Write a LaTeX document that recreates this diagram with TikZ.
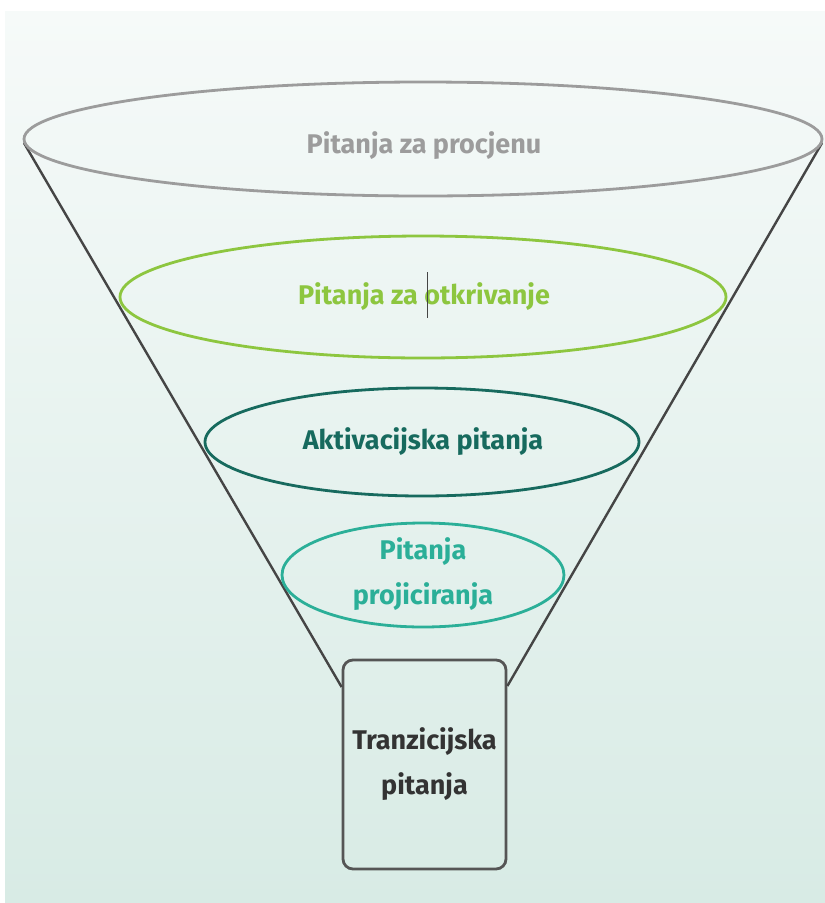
\documentclass[tikz,border=0pt]{standalone}
\usepackage{fontspec}
\setmainfont{Fira Sans}
\definecolor{bgtop}{HTML}{F6FAF9}
\definecolor{bgbot}{HTML}{D8EBE5}
\definecolor{cgray}{HTML}{9C9C9C}
\definecolor{cgreen}{HTML}{8DC63F}
\definecolor{cdark}{HTML}{176A5E}
\definecolor{cteal}{HTML}{2BAF98}
\definecolor{cline}{HTML}{454545}
\definecolor{cbox}{HTML}{555555}
\definecolor{ctext}{HTML}{333333}
\begin{document}
\begin{tikzpicture}[x=1pt,y=-1pt,
  lbl/.style={font=\fontsize{27}{45}\selectfont\bfseries, align=center, inner sep=0pt},
  ring/.style={line width=2.8pt}]
\useasboundingbox (0,0) rectangle (825,903);
\fill[white] (0,0) rectangle (825,903);
\shade[top color=bgtop, bottom color=bgbot] (5,11) rectangle (825,903);
% funnel sides
\coordinate (tl) at (24,143);
\coordinate (tr) at (822,143);
\node[draw=cbox, line width=2.8pt, rounded corners=10pt, minimum width=163pt, minimum height=209pt, inner sep=0pt] (box) at (424.5,764.5) {};
\draw[cline, line width=2.4pt] (tl) -- (box.north west |- 0,687);
\draw[cline, line width=2.4pt] (tr) -- (box.north east |- 0,686);
% ellipses
\draw[cgray, ring] (423,139) ellipse [x radius=399, y radius=57];
\draw[cgreen, ring] (423,297) ellipse [x radius=303, y radius=61];
\draw[cdark, ring] (422,442) ellipse [x radius=217, y radius=54];
\draw[cteal, ring] (423,575) ellipse [x radius=141, y radius=52];
% labels
\node[lbl, text=cgray] (t1) at (424,146) {Pitanja za procjenu};
\node[lbl, text=cgreen] (t2) at (424,297) {Pitanja za otkrivanje};
\draw[cline, line width=1pt] (427,272) -- (427,318);
\node[lbl, text=cdark] (t3) at (423,442) {Aktivacijska pitanja};
\node[lbl, text=cteal] (t4) at (423,574) {Pitanja\\projiciranja};
\node[lbl, text=ctext] (t5) at (box.center) {Tranzicijska\\pitanja};
\end{tikzpicture}
\end{document}
